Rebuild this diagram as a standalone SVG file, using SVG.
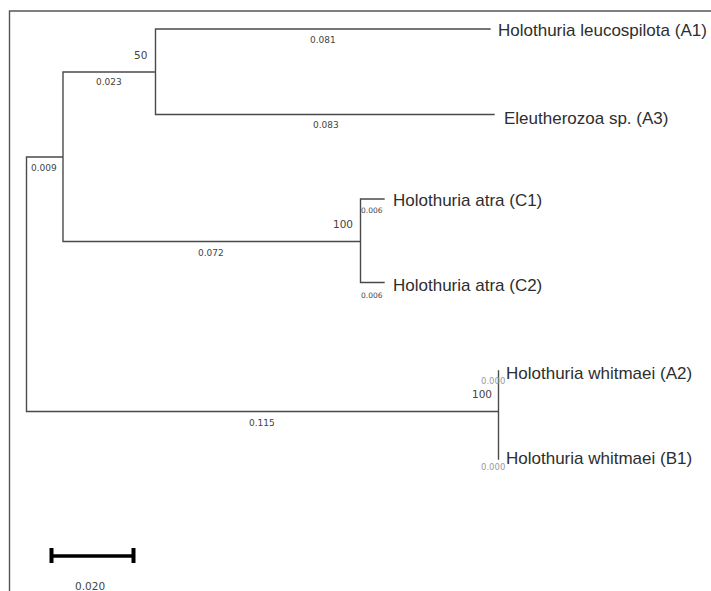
<svg xmlns="http://www.w3.org/2000/svg" width="711" height="591" viewBox="0 0 711 591">
<style>
.br{stroke:#4a4a4a;stroke-width:1.4;fill:none;stroke-linecap:square}
.fr{stroke:#555;stroke-width:1.4;fill:none}
.tx{font-family:"Liberation Sans",Arial,sans-serif;font-size:17px;fill:#2e2e2e}
.bl{font-family:"DejaVu Sans",Tahoma,sans-serif;font-size:9px;fill:#444}
.bs{font-family:"DejaVu Sans",Tahoma,sans-serif;font-size:10.5px;fill:#444}
.sm{font-family:"DejaVu Sans",Tahoma,sans-serif;font-size:7.5px;fill:#444}
.zr{font-family:"DejaVu Sans",Tahoma,sans-serif;font-size:8.5px;fill:#9a9a9a}
</style>
<rect width="711" height="591" fill="#fff"/>
<g id="frame">
<path class="fr" d="M9.5,591 V11 H711"/>
</g>
<g id="connectors">
<path class="br" d="M26.5,157 V411.5 M26.5,157 H63 M63,72 V241.5 M63,72 H155.5 M63,241.5 H360.5 M155.5,29 V114.5 M155.5,29 H490 M155.5,114.5 H494 M360.5,199 V282.5 M360.5,199 H384 M360.5,282.5 H384 M26.5,411.5 H498.5 M498.5,371 V459"/>
</g>
<g id="branch-labels">
<text class="bl" x="31" y="171">0.009</text>
<text class="bl" x="96" y="85">0.023</text>
<text class="bs" x="134" y="59">50</text>
<text class="bl" x="310" y="43">0.081</text>
<text class="bl" x="313" y="128">0.083</text>
<text class="bl" x="198" y="256">0.072</text>
<text class="bs" x="333" y="228">100</text>
<text class="sm" x="361" y="213">0.006</text>
<text class="sm" x="361" y="298">0.006</text>
<text class="bl" x="249" y="426">0.115</text>
<text class="bs" x="472" y="398">100</text>
<text class="zr" x="481" y="384">0.000</text>
<text class="zr" x="481" y="470">0.000</text>
</g>
<g id="leaf-A1"><text class="tx" x="498" y="36">Holothuria leucospilota (A1)</text></g>
<g id="leaf-A3"><text class="tx" x="504" y="124">Eleutherozoa sp. (A3)</text></g>
<g id="leaf-C1"><text class="tx" x="393" y="206">Holothuria atra (C1)</text></g>
<g id="leaf-C2"><text class="tx" x="393" y="291">Holothuria atra (C2)</text></g>
<g id="leaf-A2"><text class="tx" x="506" y="379">Holothuria whitmaei (A2)</text></g>
<g id="leaf-B1"><text class="tx" x="506" y="464">Holothuria whitmaei (B1)</text></g>
<g id="scale">
<path d="M50,556 H135" stroke="#000" stroke-width="3.5"/>
<path d="M51.5,548 V563 M133.5,548 V563" stroke="#000" stroke-width="4"/>
<text class="bs" x="75" y="590">0.020</text>
</g>
</svg>
